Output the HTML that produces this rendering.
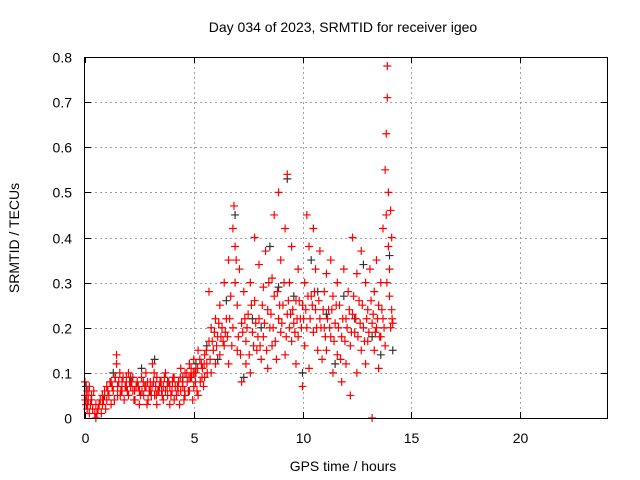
<!DOCTYPE html>
<html><head><meta charset="utf-8"><style>
body{margin:0;background:#fff;}
svg{display:block;font-family:"Liberation Sans",sans-serif;}
</style></head><body>
<svg id="chart" width="640" height="480">
<text x="343" y="32" text-anchor="middle" font-size="14">Day 034 of 2023, SRMTID for receiver igeo</text>
<text x="343" y="471" text-anchor="middle" font-size="14">GPS time / hours</text>
<text transform="translate(19,238) rotate(-90)" text-anchor="middle" font-size="14">SRMTID / TECUs</text>
<g id="grid"></g><g id="axes"></g><g id="black"></g><g id="red"></g>
<rect x="84.5" y="57.5" width="523" height="361" fill="none" stroke="#000"/>
</svg>
<script>
const xTicks=[0,5,10,15,20];
const yTicks=[0,0.1,0.2,0.3,0.4,0.5,0.6,0.7,0.8];
const yTickLabels=["0","0.1","0.2","0.3","0.4","0.5","0.6","0.7","0.8"];
const redLow=[[0,0.05],[0,0.08],[0.05,0.03],[0.1,0.06],[0.1,0.02],[0.15,0.04],[0.2,0.07],[0.2,0.01],[0.25,0.03],[0.3,0.05],[0.35,0.02],[0.4,0.06],[0.45,0.01],[0.5,0],[0.5,0.03],[0.6,0.02],[0.7,0.04],[0.75,0.01],[0.8,0.03],[0.8,0.05],[0.9,0.06],[0.95,0.02],[1.0,0.04],[1.0,0.07],[1.1,0.05],[1.15,0.08],[1.2,0.08],[1.2,0.03],[1.3,0.06],[1.35,0.04],[1.4,0.09],[1.45,0.14],[1.45,0.12],[1.5,0.05],[1.5,0.07],[1.6,0.1],[1.65,0.06],[1.7,0.06],[1.7,0.08],[1.8,0.04],[1.85,0.07],[1.9,0.09],[1.9,0.07],[2.0,0.05],[2.0,0.1],[2.05,0.08],[2.1,0.07],[2.2,0.06],[2.2,0.09],[2.25,0.04],[2.3,0.04],[2.35,0.07],[2.4,0.08],[2.5,0.06],[2.5,0.03],[2.55,0.05],[2.6,0.09],[2.7,0.05],[2.75,0.07],[2.8,0.07],[2.8,0.1],[2.85,0.03],[2.9,0.04],[2.95,0.06],[3.0,0.06],[3.0,0.08],[3.05,0.05],[3.1,0.12],[3.15,0.08],[3.2,0.05],[3.25,0.07],[3.3,0.09],[3.3,0.03],[3.35,0.06],[3.4,0.06],[3.45,0.08],[3.5,0.08],[3.55,0.05],[3.6,0.04],[3.6,0.07],[3.7,0.1],[3.7,0.06],[3.8,0.05],[3.85,0.08],[3.9,0.03],[3.9,0.07],[4.0,0.06],[4.05,0.09],[4.1,0.09],[4.1,0.04],[4.2,0.05],[4.25,0.07],[4.3,0.08],[4.35,0.03],[4.4,0.06],[4.4,0.11],[4.5,0.07],[4.55,0.04],[4.6,0.05],[4.6,0.1],[4.7,0.08],[4.75,0.06],[4.8,0.12],[4.8,0.06],[4.85,0.09],[4.9,0.09],[4.95,0.04],[5.0,0.07],[5.0,0.13],[5.05,0.1],[5.1,0.1],[5.15,0.06],[5.2,0.05],[5.2,0.15],[5.3,0.08],[5.35,0.12],[5.4,0.11],[5.45,0.07],[5.5,0.09],[5.5,0.14]];
const redLowExtra=[[0.02,0.04],[0.08,0.05],[0.12,0.03],[0.18,0.06],[0.28,0.04],[0.55,0.01],[0.65,0.03],[0.85,0.04],[1.05,0.06],[1.25,0.07],[1.38,0.09],[1.55,0.08],[1.62,0.05],[1.75,0.09],[1.95,0.06],[2.15,0.08],[2.28,0.06],[2.45,0.07],[2.62,0.06],[2.68,0.08],[2.88,0.08],[3.08,0.07],[3.18,0.1],[3.28,0.05],[3.42,0.07],[3.52,0.06],[3.65,0.09],[3.78,0.07],[3.95,0.05],[4.02,0.08],[4.15,0.07],[4.28,0.06],[4.38,0.09],[4.48,0.08],[4.58,0.06],[4.68,0.1],[4.78,0.09],[4.88,0.11],[4.98,0.1],[5.08,0.08],[5.18,0.11],[5.28,0.13],[5.38,0.09],[5.48,0.12],[5.58,0.15],[5.62,0.1],[5.75,0.13],[5.85,0.17],[5.95,0.19],[6.05,0.16],[6.15,0.21],[6.25,0.18],[6.35,0.17],[6.45,0.19],[6.55,0.18],[6.65,0.22],[6.75,0.16],[6.95,0.35],[7.05,0.18],[7.15,0.14],[7.25,0.19],[7.35,0.22],[7.45,0.2],[7.55,0.14],[7.65,0.25],[7.75,0.16],[7.85,0.21],[7.95,0.18],[8.05,0.16],[8.15,0.25],[8.25,0.21],[8.35,0.15],[8.45,0.3],[8.55,0.23],[8.65,0.2],[8.75,0.17],[8.85,0.28],[8.95,0.25],[9.05,0.21],[9.15,0.3],[9.25,0.18],[9.35,0.26],[9.45,0.23],[9.55,0.24],[9.65,0.19],[9.75,0.22],[9.85,0.26],[9.95,0.2],[10.05,0.22],[10.15,0.24],[10.25,0.27],[10.35,0.22],[10.45,0.25],[10.55,0.28],[10.65,0.2],[10.75,0.26],[10.85,0.2],[10.95,0.24],[11.05,0.18],[11.15,0.22],[11.25,0.2],[11.35,0.24],[11.45,0.17],[11.55,0.25],[11.65,0.2],[11.75,0.13],[11.85,0.22],[11.95,0.17],[12.05,0.2],[12.15,0.24],[12.25,0.19],[12.35,0.27],[12.45,0.22],[12.55,0.18],[12.65,0.21],[12.75,0.25],[12.85,0.17],[12.95,0.22],[13.05,0.19],[13.15,0.26],[13.25,0.23],[13.35,0.19],[13.45,0.22],[13.55,0.18],[13.65,0.24],[13.75,0.2],[13.88,0.3],[14.12,0.22]];
const redHigh=[[5.6,0.12],[5.7,0.17],[5.7,0.28],[5.8,0.1],[5.8,0.2],[5.9,0.15],[6.0,0.22],[6.0,0.12],[6.1,0.18],[6.2,0.25],[6.2,0.14],[6.3,0.2],[6.4,0.16],[6.4,0.3],[6.5,0.22],[6.6,0.12],[6.6,0.35],[6.7,0.27],[6.8,0.42],[6.8,0.2],[6.85,0.47],[6.9,0.3],[6.9,0.38],[7.0,0.25],[7.0,0.15],[7.1,0.33],[7.2,0.08],[7.2,0.21],[7.3,0.28],[7.4,0.17],[7.4,0.12],[7.5,0.23],[7.6,0.3],[7.6,0.1],[7.7,0.19],[7.8,0.4],[7.8,0.26],[7.9,0.15],[8.0,0.22],[8.0,0.34],[8.1,0.13],[8.2,0.29],[8.2,0.18],[8.3,0.37],[8.4,0.24],[8.4,0.11],[8.5,0.2],[8.6,0.31],[8.6,0.16],[8.7,0.45],[8.7,0.27],[8.8,0.13],[8.9,0.5],[8.9,0.22],[9.0,0.35],[9.0,0.19],[9.1,0.25],[9.2,0.42],[9.2,0.14],[9.3,0.54],[9.3,0.23],[9.4,0.3],[9.4,0.2],[9.5,0.38],[9.5,0.17],[9.6,0.21],[9.7,0.26],[9.7,0.12],[9.8,0.33],[9.8,0.18],[9.9,0.22],[10.0,0.07],[10.0,0.25],[10.1,0.3],[10.1,0.16],[10.2,0.45],[10.2,0.2],[10.3,0.38],[10.3,0.11],[10.4,0.27],[10.5,0.42],[10.5,0.19],[10.6,0.33],[10.6,0.24],[10.7,0.15],[10.8,0.22],[10.8,0.37],[10.9,0.13],[11.0,0.28],[11.0,0.2],[11.1,0.32],[11.1,0.15],[11.2,0.24],[11.3,0.18],[11.3,0.35],[11.4,0.1],[11.4,0.27],[11.5,0.21],[11.6,0.3],[11.6,0.14],[11.7,0.25],[11.8,0.18],[11.8,0.08],[11.9,0.33],[12.0,0.22],[12.0,0.12],[12.1,0.28],[12.2,0.16],[12.2,0.05],[12.3,0.4],[12.3,0.23],[12.4,0.19],[12.5,0.32],[12.5,0.1],[12.6,0.26],[12.7,0.15],[12.7,0.37],[12.8,0.2],[12.9,0.12],[12.9,0.3],[13.0,0.24],[13.0,0.17],[13.1,0.33],[13.2,0],[13.2,0.21],[13.3,0.15],[13.3,0.28],[13.4,0.35],[13.4,0.2],[13.5,0.11],[13.5,0.25],[13.6,0.18],[13.6,0.3],[13.7,0.22],[13.7,0.42],[13.8,0.16],[13.8,0.55],[13.85,0.63],[13.85,0.45],[13.9,0.78],[13.9,0.71],[13.95,0.38],[13.95,0.5],[14.0,0.27],[14.0,0.33],[14.05,0.46],[14.05,0.2],[14.1,0.24],[14.1,0.4],[14.15,0.21]];
const blackPoints=[[0.05,0.07],[0.3,0.04],[0.9,0.05],[1.3,0.1],[2.1,0.09],[2.6,0.11],[3.2,0.13],[3.8,0.08],[4.5,0.09],[5.1,0.12],[5.6,0.16],[6.1,0.13],[6.5,0.26],[6.9,0.45],[7.3,0.09],[7.7,0.22],[8.1,0.2],[8.5,0.38],[8.9,0.29],[9.3,0.53],[9.6,0.27],[10.0,0.1],[10.4,0.35],[10.7,0.28],[11.1,0.23],[11.5,0.12],[11.9,0.27],[12.4,0.22],[12.8,0.34],[13.2,0.18],[13.6,0.14],[14.0,0.36],[14.15,0.15]];
const NS="http://www.w3.org/2000/svg";
const X0=85,X1=607,Y0=418,Y1=57;
function xs(t){return X0+(t/24)*(X1-X0);}
function ys(v){return Y0-(v/0.8)*(Y0-Y1);}
function mk(tag,attrs,parent){const e=document.createElementNS(NS,tag);for(const k in attrs)e.setAttribute(k,attrs[k]);parent.appendChild(e);return e;}
const grid=document.getElementById('grid'),axes=document.getElementById('axes');
xTicks.forEach(t=>{
 const x=Math.round(xs(t))+0.5;
 if(t>0){const g=mk('line',{x1:x,x2:x,y1:Y1,y2:Y0,stroke:'#a0a0a0','stroke-dasharray':'2,3'},grid);
 
 }
 mk('line',{x1:x,x2:x,y1:Y0,y2:Y0-6,stroke:'#000'},axes);
 mk('line',{x1:x,x2:x,y1:Y1,y2:Y1+6,stroke:'#000'},axes);
 const l=mk('text',{x:x,y:443,'text-anchor':'middle','font-size':'14'},axes);l.textContent=t;
 
 
});
yTicks.forEach((v,i)=>{
 const y=Math.round(ys(v))+0.5;
 if(v>0){const g=mk('line',{x1:X0,x2:X1,y1:y,y2:y,stroke:'#a0a0a0','stroke-dasharray':'2,3'},grid);
 
 }
 mk('line',{x1:X0,x2:X0+6,y1:y,y2:y,stroke:'#000'},axes);
 mk('line',{x1:X1,x2:X1-6,y1:y,y2:y,stroke:'#000'},axes);
 const l=mk('text',{x:72,y:y+5,'text-anchor':'end','font-size':'14'},axes);l.textContent=yTickLabels[i];
 
 
});
function plot(pts,color,gid,name){
 const g=document.getElementById(gid);let d='';
 pts.forEach(p=>{const x=xs(p[0]),y=ys(p[1]);d+=`M${x-4},${y}h8M${x},${y-4}v8`;});
 const path=mk('path',{d:d,stroke:color,'stroke-width':'1.2',fill:'none'},g);
 
 
}
plot(blackPoints,'#333','black','black-series-points');
plot(redLow.concat(redLowExtra,redHigh),'#ff0000','red','red-series-points');
</script>
</body></html>
